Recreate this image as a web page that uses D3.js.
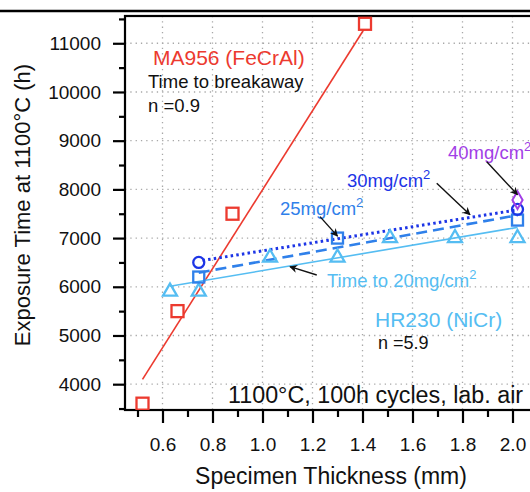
<!DOCTYPE html>
<html>
<head>
<meta charset="utf-8">
<script src="https://cdn.jsdelivr.net/npm/d3@7"></script>
<style>
  html, body { margin: 0; padding: 0; background: #fff; overflow: hidden; }
  svg { display: block; font-family: Helvetica, "Liberation Sans", Arial, sans-serif; }
</style>
</head>
<body>
<div id="chart"></div>
<script>
// Data (thickness in mm, time in h)
const ma956 = [[0.52, 3600], [0.66, 5500], [0.88, 7500], [1.41, 11400]];
const ma956Fit = [[0.52, 4100], [1.42, 11400]];
const hr230 = [[0.63, 5900], [0.745, 5900], [1.03, 6600], [1.30, 6600], [1.51, 7000], [1.77, 7000], [2.02, 7000]];
const hr230Fit = [[0.63, 6010], [2.02, 7220]];
const sq25 = [[0.745, 6200], [1.30, 7000], [2.02, 7370]];
const fit25 = [[0.745, 6290], [2.02, 7470]];
const circ30 = [[0.745, 6500], [2.02, 7590]];
const fit30 = [[0.76, 6540], [2.02, 7580]];
const dia40 = [[2.02, 7780]];

const xTicks = [0.6, 0.8, 1.0, 1.2, 1.4, 1.6, 1.8, 2.0];
const xMinor = [0.5, 0.7, 0.9, 1.1, 1.3, 1.5, 1.7, 1.9, 2.1];
const yTicks = [4000, 5000, 6000, 7000, 8000, 9000, 10000, 11000];
const yMinor = [3500, 4500, 5500, 6500, 7500, 8500, 9500, 10500, 11500];

const COLORS = {
  red: '#ec3a2f',
  light: '#55bdf2',
  mid: '#2f80ea',
  dark: '#1d35e6',
  purple: '#a13ee6',
  grid: '#a8a8a8'
};

const W = 530, H = 492;
const PLOT = { left: 125, top: 16, bottom: 410, right: 537.5 };

const x = d3.scaleLinear().domain([0.45, 2.1]).range([PLOT.left, PLOT.right]);
const y = d3.scaleLinear().domain([3470, 11560]).range([PLOT.bottom, PLOT.top]);

const svg = d3.select('#chart').append('svg')
  .attr('width', W)
  .attr('height', H);

const defs = svg.append('defs');
defs.append('marker')
  .attr('id', 'arrow')
  .attr('viewBox', '0 0 10 10')
  .attr('refX', 9).attr('refY', 5)
  .attr('markerWidth', 8).attr('markerHeight', 8)
  .attr('markerUnits', 'userSpaceOnUse')
  .attr('orient', 'auto')
  .append('path')
  .attr('d', 'M0,0 L10,5 L0,10 L3,5 Z')
  .attr('fill', '#111');
defs.append('clipPath').attr('id', 'plotclip')
  .append('rect')
  .attr('x', PLOT.left).attr('y', PLOT.top)
  .attr('width', PLOT.right - PLOT.left).attr('height', PLOT.bottom - PLOT.top);

// top rule
svg.append('line')
  .attr('x1', 0).attr('x2', W).attr('y1', 11).attr('y2', 11)
  .attr('stroke', '#000').attr('stroke-width', 2.5);

// dotted grid
const grid = svg.append('g');
grid.selectAll('.gx').data(xTicks).enter().append('line')
  .attr('x1', d => x(d)).attr('x2', d => x(d))
  .attr('y1', PLOT.top).attr('y2', PLOT.bottom)
  .attr('stroke', COLORS.grid).attr('stroke-width', 1.3)
  .attr('stroke-dasharray', '1.3,4');
grid.selectAll('.gy').data(yTicks).enter().append('line')
  .attr('x1', PLOT.left).attr('x2', PLOT.right)
  .attr('y1', d => y(d)).attr('y2', d => y(d))
  .attr('stroke', COLORS.grid).attr('stroke-width', 1.3)
  .attr('stroke-dasharray', '1.3,4');

// axes
const yAxis = svg.append('g')
  .attr('transform', `translate(${PLOT.left},0)`)
  .call(d3.axisLeft(y).tickValues(yTicks).tickSize(12).tickPadding(12).tickFormat(d3.format('d')));
const yAxisMinor = svg.append('g')
  .attr('transform', `translate(${PLOT.left},0)`)
  .call(d3.axisLeft(y).tickValues(yMinor).tickSize(6).tickFormat(''));
const xAxis = svg.append('g')
  .attr('transform', `translate(0,${PLOT.bottom})`)
  .call(d3.axisBottom(x).tickValues(xTicks).tickSize(13).tickPadding(15).tickFormat(d3.format('.1f')));
const xAxisMinor = svg.append('g')
  .attr('transform', `translate(0,${PLOT.bottom})`)
  .call(d3.axisBottom(x).tickValues(xMinor).tickSize(7).tickFormat(''));

for (let a of [yAxis, yAxisMinor, xAxis, xAxisMinor]) {
  a.select('.domain').remove();
  a.selectAll('line').attr('stroke', '#000').attr('stroke-width', 2.2);
  a.selectAll('text')
    .attr('fill', '#111')
    .style('font-size', '19px')
    .style('font-family', 'Helvetica, "Liberation Sans", Arial, sans-serif');
}

// frame
svg.append('rect')
  .attr('x', PLOT.left).attr('y', PLOT.top)
  .attr('width', PLOT.right - PLOT.left).attr('height', PLOT.bottom - PLOT.top)
  .attr('fill', 'none').attr('stroke', '#000').attr('stroke-width', 2.2);

// axis titles
svg.append('text')
  .text('Exposure Time at 1100°C (h)')
  .attr('transform', 'translate(30,205) rotate(-90)')
  .attr('text-anchor', 'middle')
  .attr('font-size', 22)
  .attr('fill', '#111');
svg.append('text')
  .text('Specimen Thickness (mm)')
  .attr('x', 331).attr('y', 484)
  .attr('text-anchor', 'middle')
  .attr('font-size', 23)
  .attr('fill', '#111');

const plot = svg.append('g').attr('clip-path', 'url(#plotclip)');
const line = d3.line().x(d => x(d[0])).y(d => y(d[1]));

// fit lines
plot.append('path').datum(ma956Fit).attr('d', line)
  .attr('fill', 'none').attr('stroke', COLORS.red).attr('stroke-width', 1.6);
plot.append('path').datum(hr230Fit).attr('d', line)
  .attr('fill', 'none').attr('stroke', COLORS.light).attr('stroke-width', 1.6);
plot.append('path').datum(fit25).attr('d', line)
  .attr('fill', 'none').attr('stroke', COLORS.mid).attr('stroke-width', 2.6)
  .attr('stroke-dasharray', '11,6');
plot.append('path').datum(fit30).attr('d', line)
  .attr('fill', 'none').attr('stroke', COLORS.dark).attr('stroke-width', 3)
  .attr('stroke-dasharray', '2.5,3.2');

// markers
const sym = (type, size) => d3.symbol().type(type).size(size)();

plot.selectAll('.ma').data(ma956).enter().append('rect')
  .attr('x', d => x(d[0]) - 6).attr('y', d => y(d[1]) - 6)
  .attr('width', 12).attr('height', 12)
  .attr('fill', '#fff').attr('stroke', COLORS.red).attr('stroke-width', 2.3);

plot.selectAll('.hr').data(hr230).enter().append('path')
  .attr('d', sym(d3.symbolTriangle, 85))
  .attr('transform', d => `translate(${x(d[0])},${y(d[1])})`)
  .attr('fill', 'none').attr('stroke', COLORS.light).attr('stroke-width', 2.3);

plot.selectAll('.s25').data(sq25).enter().append('rect')
  .attr('x', d => x(d[0]) - 5.5).attr('y', d => y(d[1]) - 5.5)
  .attr('width', 11).attr('height', 11)
  .attr('fill', 'none').attr('stroke', COLORS.mid).attr('stroke-width', 2.3);

plot.selectAll('.c30').data(circ30).enter().append('circle')
  .attr('cx', d => x(d[0])).attr('cy', d => y(d[1]))
  .attr('r', 5.5)
  .attr('fill', 'none').attr('stroke', COLORS.dark).attr('stroke-width', 2.3);

plot.selectAll('.d40').data(dia40).enter().append('path')
  .attr('d', sym(d3.symbolDiamond, 90))
  .attr('transform', d => `translate(${x(d[0])},${y(d[1])})`)
  .attr('fill', 'none').attr('stroke', COLORS.purple).attr('stroke-width', 2);

// labels
const notes = [
  { t: 'MA956 (FeCrAl)', at: [0.562, 10554], c: COLORS.red, s: 21 },
  { t: 'Time to breakaway', at: [0.542, 10082], c: '#111', s: 18.5 },
  { t: 'n =0.9', at: [0.542, 9590], c: '#111', s: 18.5 },
  { t: 'HR230 (NiCr)', at: [1.45, 5180], c: COLORS.light, s: 21 },
  { t: 'n =5.9', at: [1.462, 4730], c: '#111', s: 18 },
  { t: '1100°C, 100h cycles, lab. air', at: [0.862, 3614], c: '#111', s: 23.3 },
  { t: '25mg/cm', sup: '2', at: [1.07, 7474], c: COLORS.mid, s: 18.5 },
  { t: '30mg/cm', sup: '2', at: [1.338, 8049], c: COLORS.dark, s: 18.5 },
  { t: '40mg/cm', sup: '2', at: [1.742, 8624], c: COLORS.purple, s: 18.5 },
  { t: 'Time to 20mg/cm', sup: '2', at: [1.258, 5996], c: COLORS.light, s: 18.5 }
];
const labels = svg.selectAll('.note').data(notes).enter().append('text')
  .attr('x', d => x(d.at[0])).attr('y', d => y(d.at[1]))
  .attr('font-size', d => d.s)
  .attr('fill', d => d.c)
  .text(d => d.t);
labels.filter(d => d.sup).append('tspan')
  .attr('dy', -8).attr('font-size', 13)
  .text(d => d.sup);

// arrows
const arrows = [
  [[1.23, 7440], [1.30, 7040]],
  [[1.697, 8125], [1.83, 7480]],
  [[1.897, 8569], [2.02, 7890]],
  [[1.217, 6242], [1.11, 6413]]
];
svg.selectAll('.arrow').data(arrows).enter().append('line')
  .attr('x1', d => x(d[0][0])).attr('y1', d => y(d[0][1]))
  .attr('x2', d => x(d[1][0])).attr('y2', d => y(d[1][1]))
  .attr('stroke', '#111').attr('stroke-width', 1.4)
  .attr('marker-end', 'url(#arrow)');
</script>
</body>
</html>
